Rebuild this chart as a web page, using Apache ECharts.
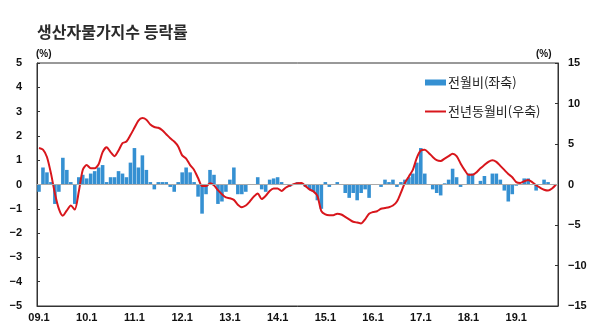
<!DOCTYPE html>
<html><head><meta charset="utf-8">
<script src="https://cdn.jsdelivr.net/npm/echarts@6/dist/echarts.min.js"></script>
<style>html,body{margin:0;padding:0;background:#fff}#c{width:600px;height:334px}</style>
</head><body><div id="c"></div>
<script>
const chartTitle = '생산자물가지수 등락률';
const seriesNames = ['전월비(좌축)', '전년동월비(우축)'];
const startYear = 2009;
const monthCount = 131; // 2009.1 ~ 2019.11
const tickLabels = ['09.1','10.1','11.1','12.1','13.1','14.1','15.1','16.1','17.1','18.1','19.1'];

// 전월비 (%), left axis
const momChange = [
  -0.3, 0.7, 0.5, 0.1, -0.8, -0.3, 1.1, 0.6, 0.1, -0.8, 0.3, 0.4,
  0.25, 0.45, 0.55, 0.7, 0.8, 0.1, 0.3, 0.3, 0.55, 0.45, 0.3, 0.9,
  1.5, 0.7, 1.2, 0.6, 0.1, -0.2, 0.1, 0.1, 0.1, -0.1, -0.3, 0.1,
  0.5, 0.7, 0.5, 0.1, -0.5, -1.2, -0.4, 0.6, 0.4, -0.8, -0.7, -0.3,
  0.2, 0.7, -0.4, -0.4, -0.3, 0.0, 0.0, 0.3, -0.2, -0.3, 0.2, 0.25,
  0.3, 0.1, 0.0, -0.1, 0.0, 0.1, 0.0, -0.1, -0.2, -0.3, -0.65, -1.0,
  0.1, -0.1, 0.0, 0.1, 0.0, -0.35, -0.55, -0.35, -0.65, -0.35, -0.2, -0.55,
  0.0, 0.0, -0.1, 0.2, 0.1, 0.2, -0.1, 0.1, 0.2, 0.3, 0.45, 0.9,
  1.5, 0.45, 0.0, -0.2, -0.35, -0.45, 0.05, 0.2, 0.65, 0.3, -0.1, 0.0,
  0.45, 0.45, 0.0, 0.15, 0.35, 0.0, 0.45, 0.45, 0.2, -0.25, -0.7, -0.4,
  -0.05, 0.0, 0.25, 0.25, 0.0, -0.25, 0.0, 0.2, 0.1, 0.0, 0.0
];

// 전년동월비 (%), right axis
const yoyChange = [
  4.5, 4.3, 3.4, 1.4, -1.1, -3.0, -3.85, -3.2, -2.6, -3.1, -0.9, 1.8,
  2.4, 2.0, 2.0, 2.5, 4.0, 4.6, 4.0, 3.5, 4.2, 5.1, 5.3, 6.1,
  7.0, 7.9, 8.2, 8.0, 7.4, 7.1, 7.0, 6.7, 6.2, 5.7, 5.3, 4.7,
  3.6, 3.2, 2.4, 1.8, 0.8, -0.2, -0.2, 0.15, -0.1, -0.7, -1.2, -1.6,
  -1.7, -1.9, -2.5, -2.8, -2.6, -2.1, -1.5, -1.1, -1.8, -1.4, -0.8, -0.5,
  -0.5, -0.8, -0.4, -0.15, 0.05, 0.15, 0.2, -0.2, -0.6, -0.85, -1.4, -3.3,
  -3.7, -3.8, -3.8, -3.6, -3.7, -4.0, -4.3, -4.6, -4.7, -4.8, -4.3, -3.6,
  -3.4, -3.3, -3.0, -2.9, -2.8, -2.6, -2.1, -1.0, 0.2, 1.0, 1.8, 3.3,
  4.2, 4.3, 3.9, 3.4, 3.0, 2.9, 3.2, 3.5, 3.8, 3.5, 2.6, 1.8,
  1.2, 1.2, 1.5, 2.0, 2.4, 2.8, 3.0, 2.8, 2.3, 1.8, 1.3, 0.9,
  0.3, 0.2, 0.4, 0.55, 0.3, -0.1, -0.4, -0.65, -0.75, -0.5, 0.0
];

const categories = [];
for (let i = 0; i < monthCount; i++) {
  const yy = String((startYear + Math.floor(i / 12)) % 100).padStart(2, '0');
  categories.push(yy + '.' + (i % 12 + 1));
}

const minus = v => String(v).replace('-', '\u2212');
const axisFont = { fontFamily: 'Liberation Sans, Arial', fontWeight: 'bold', fontSize: 11, color: '#111' };

const chart = echarts.init(document.getElementById('c'), null, { renderer: 'canvas' });
chart.setOption({
  animation: false,
  backgroundColor: '#fff',
  title: {
    text: chartTitle, left: 32, top: 19,
    textStyle: { fontFamily: 'Noto Sans CJK KR', fontWeight: 'bold', fontSize: 16, color: '#2a2a2a' }
  },
  grid: { left: 37, right: 42, top: 63, bottom: 28, show: true, borderColor: '#333', borderWidth: 1 },
  legend: {
    orient: 'vertical', left: 425, top: 76, padding: 0, itemWidth: 21, itemHeight: 6, itemGap: 16,
    textStyle: { fontFamily: 'Noto Sans CJK KR', fontSize: 13, color: '#222', padding: [0, 0, 0, -3] },
    data: [
      { name: seriesNames[0], icon: 'rect' },
      { name: seriesNames[1], icon: 'path://M0,0H21V2H0Z', itemStyle: { color: '#d8161c' } }
    ]
  },
  graphic: [
    { type: 'text', left: 36, top: 49, style: { text: '(%)', font: 'bold 10px Liberation Sans, Arial', fill: '#111' } },
    { type: 'text', left: 536, top: 49, style: { text: '(%)', font: 'bold 10px Liberation Sans, Arial', fill: '#111' } }
  ],
  xAxis: {
    type: 'category', data: categories, boundaryGap: true,
    axisLine: { onZero: false, lineStyle: { color: '#333' } },
    axisTick: { show: false },
    axisLabel: Object.assign({ interval: (idx, val) => tickLabels.includes(val), margin: 6 }, axisFont),
    splitLine: { show: false }
  },
  yAxis: [
    {
      type: 'value', min: -5, max: 5, interval: 1, position: 'left',
      axisLine: { show: true, lineStyle: { color: '#333' } },
      axisTick: { show: true, inside: true, length: 3, lineStyle: { color: '#333' } },
      axisLabel: Object.assign({ margin: 15, formatter: minus }, axisFont),
      splitLine: { show: false }
    },
    {
      type: 'value', min: -15, max: 15, interval: 5, position: 'right',
      axisLine: { show: true, lineStyle: { color: '#333' } },
      axisTick: { show: true, inside: true, length: 3, lineStyle: { color: '#333' } },
      axisLabel: Object.assign({ margin: 10, formatter: minus }, axisFont),
      splitLine: { show: false }
    }
  ],
  series: [
    {
      name: seriesNames[0], type: 'bar', yAxisIndex: 0, data: momChange,
      barWidth: '90%', itemStyle: { color: '#3590d2' },
      markLine: {
        silent: true, symbol: 'none', label: { show: false },
        lineStyle: { color: '#aaa', type: 'solid', width: 1 },
        data: [{ yAxis: 0 }]
      }
    },
    {
      name: seriesNames[1], type: 'line', yAxisIndex: 1, data: yoyChange,
      symbol: 'none', smooth: 0.25,
      lineStyle: { color: '#d8161c', width: 2 }, itemStyle: { color: '#d8161c' }
    }
  ]
});
</script>
</body></html>
